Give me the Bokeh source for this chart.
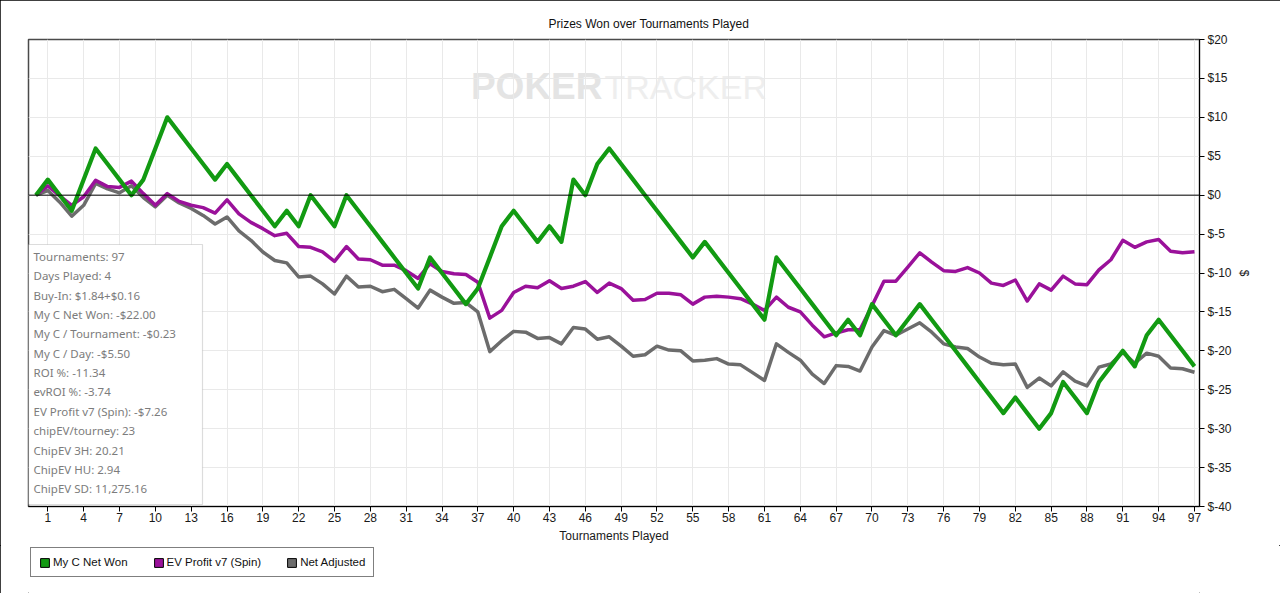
from bokeh.plotting import figure
from bokeh.layouts import column
from bokeh.models import (Range1d, FixedTicker, PrintfTickFormatter, Span, BoxAnnotation,
                          Legend, LegendItem, ColumnDataSource, Label)
from bokeh.core.properties import value
from bokeh.embed import file_html
from bokeh.resources import INLINE

# ---------------- data ----------------
tournaments = list(range(0, 98))

my_c_net_won = [0, 2, 0, -2, 2, 6, 4, 2, 0, 2, 6, 10, 8, 6, 4, 2, 4, 2, 0, -2,
                -4, -2, -4, 0, -2, -4, 0, -2, -4, -6, -8, -10, -12, -8, -10, -12, -14, -12, -8, -4,
                -2, -4, -6, -4, -6, 2, 0, 4, 6, 4, 2, 0, -2, -4, -6, -8, -6, -8, -10, -12,
                -14, -16, -8, -10, -12, -14, -16, -18, -16, -18, -14, -16, -18, -16, -14, -16, -18, -20, -22, -24,
                -26, -28, -26, -28, -30, -28, -24, -26, -28, -24, -22, -20, -22, -18, -16, -18, -20, -22]

ev_profit_v7 = [0, 1.2, -0.1, -1.3, -0.2, 1.9, 1.1, 1.0, 1.8, 0.2, -1.3, 0.2, -0.8, -1.3, -1.6, -2.3, -0.6, -2.4, -3.5, -4.3,
                -5.2, -4.9, -6.6, -6.7, -7.3, -8.5, -6.6, -8.2, -8.3, -9.0, -9.0, -9.7, -10.7, -8.8, -9.8, -10.1, -10.2, -11.2, -15.8, -14.8,
                -12.5, -11.7, -11.9, -11.0, -12.0, -11.7, -11.1, -12.5, -11.3, -12.0, -13.5, -13.4, -12.6, -12.6, -12.8, -14.0, -13.1, -13.0, -13.1, -13.3,
                -14.0, -14.8, -13.1, -14.4, -15.0, -16.7, -18.2, -17.7, -17.3, -17.3, -14.2, -11.05, -11.05, -9.25, -7.4, -8.6, -9.7, -9.8, -9.3, -10.0,
                -11.3, -11.6, -10.9, -13.6, -11.4, -12.2, -10.4, -11.4, -11.5, -9.6, -8.3, -5.8, -6.7, -6.0, -5.7, -7.2, -7.4, -7.26]

net_adjusted = [0, 0.6, -0.9, -2.7, -1.3, 1.5, 0.8, 0.3, 1.2, -0.3, -1.5, 0.0, -1.0, -1.7, -2.6, -3.7, -2.8, -4.6, -5.8, -7.3,
                -8.4, -8.7, -10.5, -10.4, -11.4, -12.7, -10.4, -11.8, -11.7, -12.4, -12.1, -13.3, -14.5, -12.2, -13.1, -13.9, -13.8, -15.0, -20.1, -18.7,
                -17.5, -17.6, -18.4, -18.3, -19.1, -17.0, -17.2, -18.5, -18.2, -19.4, -20.7, -20.5, -19.4, -19.9, -20.0, -21.3, -21.2, -21.0, -21.7, -21.8,
                -22.8, -23.8, -19.1, -20.2, -21.2, -23.0, -24.2, -21.9, -22.0, -22.6, -19.5, -17.4, -18.0, -17.2, -16.4, -17.6, -19.1, -19.5, -19.7, -20.8,
                -21.6, -21.8, -21.7, -24.7, -23.5, -24.5, -22.7, -23.9, -24.5, -22.1, -21.7, -20.2, -21.6, -20.3, -20.7, -22.2, -22.3, -22.75]

series_names = ["My C Net Won", "EV Profit v7 (Spin)", "Net Adjusted"]

x_ticks = list(range(1, 98, 3))
y_ticks = list(range(-40, 21, 5))

stats_lines = ["Tournaments: 97", "Days Played: 4", "Buy-In: $1.84+$0.16", "My C Net Won: -$22.00",
               "My C / Tournament: -$0.23", "My C / Day: -$5.50", "ROI %: -11.34", "evROI %: -3.74",
               "EV Profit v7 (Spin): -$7.26", "chipEV/tourney: 23", "ChipEV 3H: 20.21", "ChipEV HU: 2.94",
               "ChipEV SD: 11,275.16"]

# ---------------- style / layout ----------------
GREEN = "#129a12"
PURPLE = "#9a119a"
GREY = "#6c6c6c"
W = 1280
H_MAIN, H_LEG = 545, 48
FRAME_L, FRAME_T, FRAME_W, FRAME_H = 28, 39, 1171, 467
X0, X1 = -0.62, 97.42
Y0, Y1 = -40, 20
PX_PER_Y = FRAME_H / (Y1 - Y0)


def px_to_x(px):
    return X0 + (px - FRAME_L) / FRAME_W * (X1 - X0)


def px_to_y(py):
    return Y1 - (py - FRAME_T) / PX_PER_Y


p = figure(width=W, height=H_MAIN, x_range=Range1d(X0, X1), y_range=Range1d(Y0, Y1),
           output_backend="svg", toolbar_location=None, y_axis_location="right",
           min_border_left=FRAME_L, min_border_top=FRAME_T,
           min_border_right=W - FRAME_L - FRAME_W, min_border_bottom=H_MAIN - FRAME_T - FRAME_H)

p.title.text = "Prizes Won over Tournaments Played"
p.title.align = "left"
p.title.offset = 520
p.title.text_font = "Liberation Sans"
p.title.text_font_size = "12px"
p.title.text_font_style = "normal"
p.title.text_color = "#111111"
p.title.standoff = 18

p.background_fill_color = "white"
p.border_fill_color = "white"
p.outline_line_color = "#4a4a4a"
p.outline_line_width = 1.5

# grids
p.xgrid.ticker = FixedTicker(ticks=x_ticks)
p.ygrid.ticker = FixedTicker(ticks=y_ticks)
p.xgrid.grid_line_color = "#e9e9e9"
p.ygrid.grid_line_color = "#e9e9e9"

# axes
xa = p.xaxis[0]
xa.ticker = FixedTicker(ticks=x_ticks)
xa.axis_label = "Tournaments Played"
ya = p.yaxis[0]
ya.ticker = FixedTicker(ticks=y_ticks)
ya.formatter = PrintfTickFormatter(format="$%d")
ya.axis_label = "$"
for ax in (xa, ya):
    ax.axis_line_color = "black"
    ax.major_tick_line_color = "black"
    ax.minor_tick_line_color = None
    ax.major_tick_in = 0
    ax.major_tick_out = 5
    ax.major_label_text_font = "Liberation Sans"
    ax.major_label_text_font_size = "12px"
    ax.major_label_text_color = "#1a1a1a"
    ax.axis_label_text_font = "Liberation Sans"
    ax.axis_label_text_font_size = "12px"
    ax.axis_label_text_font_style = "normal"
    ax.axis_label_text_color = "#1a1a1a"
xa.major_label_standoff = 1
xa.axis_label_standoff = 4
ya.major_label_standoff = 3
ya.axis_label_standoff = 2

# watermark
p.text(x=[px_to_x(602)], y=[px_to_y(86)], text=["POKER"], text_align="right", text_baseline="middle",
       text_font=value("Liberation Sans"), text_font_style="bold", text_font_size="37px",
       text_color="#e4e4e4", level="underlay")
p.text(x=[px_to_x(604)], y=[px_to_y(86)], text=["TRACKER"], text_align="left", text_baseline="middle",
       text_font=value("Liberation Sans"), text_font_size="34px",
       text_color="#eeeeee", level="underlay")

# zero line
p.add_layout(Span(location=0, dimension="width", line_color="black", line_width=1))

# series
src = ColumnDataSource(dict(t=tournaments, green=my_c_net_won, purple=ev_profit_v7, grey=net_adjusted))
p.line("t", "grey", source=src, line_color=GREY, line_width=3.5, line_join="round")
p.line("t", "purple", source=src, line_color=PURPLE, line_width=3.5, line_join="round")
p.line("t", "green", source=src, line_color=GREEN, line_width=4.2, line_join="round")

# stats box
p.add_layout(BoxAnnotation(left=X0, right=px_to_x(202), top=px_to_y(244), bottom=px_to_y(504),
                           fill_color="white", fill_alpha=1, line_color="#8a8a8a", line_width=1.2,
                           level="overlay"))
for i, line in enumerate(stats_lines):
    p.add_layout(Label(x=px_to_x(33), y=px_to_y(256 + 19.35 * i), text=line,
                       text_align="left", text_baseline="middle", text_font="Noto Sans",
                       text_font_size="11.5px", text_color="#7c7c7c", level="overlay"))

# ---------------- legend strip ----------------
p2 = figure(width=W, height=H_LEG, x_range=Range1d(0, 1), y_range=Range1d(0, 1),
            output_backend="svg", toolbar_location=None, min_border=0,
            x_axis_location=None, y_axis_location=None)
p2.grid.visible = False
p2.outline_line_color = None
p2.background_fill_color = "white"
p2.border_fill_color = "white"

items = []
for col, name, colr in zip(["green", "purple", "grey"], series_names, [GREEN, PURPLE, GREY]):
    r = p2.vbar(x="t", top=col, source=src, width=0.5, fill_color=colr, line_color="black",
                line_width=1, visible=False)
    items.append(LegendItem(label=name, renderers=[r]))
# the column aligns this strip's frame with the chart frame (left edge at FRAME_L)
legend = Legend(items=items, orientation="horizontal", location=(30 - FRAME_L, H_LEG - 30 - 2),
                border_line_color="black", border_line_width=1.5, background_fill_color="white",
                background_fill_alpha=1, padding=8, margin=0, spacing=25, label_standoff=3,
                glyph_width=11, glyph_height=11, label_height=12,
                label_text_font="Liberation Sans", label_text_font_size="11.5px",
                label_text_color="#111111")
p2.add_layout(legend)

layout = column(p, p2, spacing=0)
layout.styles = {"outline": "1px solid #000", "outline-offset": "-1px"}

open("out.html", "w").write(file_html(layout, INLINE))
